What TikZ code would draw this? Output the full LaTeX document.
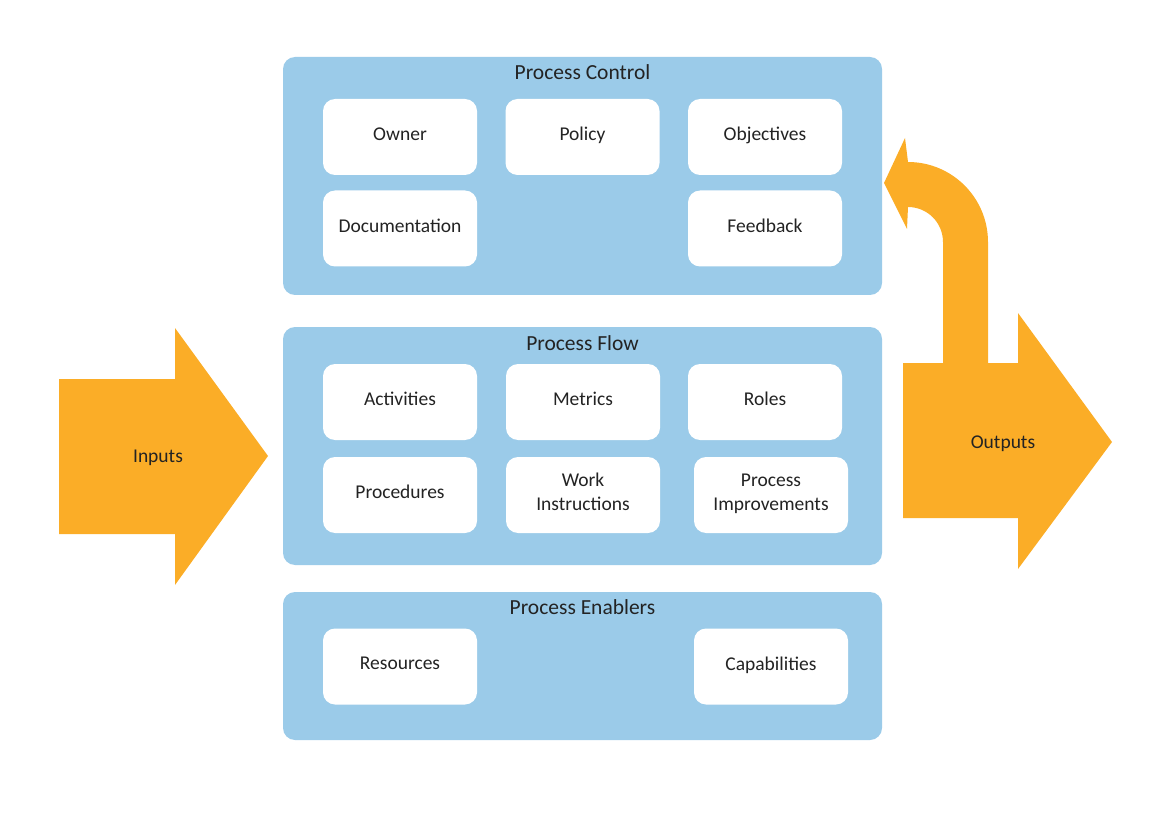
\documentclass[tikz,border=0pt]{standalone}
\usepackage{fontspec}
\setmainfont{Carlito}
\definecolor{boxblue}{RGB}{155,203,233}
\definecolor{arroworange}{RGB}{251,173,39}
\definecolor{txt}{RGB}{35,35,35}
\begin{document}
\begin{tikzpicture}[x=1pt,y=-1pt,
  panel/.style={fill=boxblue, rounded corners=12pt, draw=none, inner sep=0pt, minimum width=599pt},
  item/.style={fill=white, rounded corners=12pt, minimum width=154pt, minimum height=76pt, align=center, font=\fontsize{19.5}{24}\selectfont, text=txt, inner sep=0pt, text depth=6pt},
  ptitle/.style={font=\fontsize{21.5}{26}\selectfont, text=txt, inner sep=0pt},
  alabel/.style={font=\fontsize{19.5}{24}\selectfont, text=txt, inner sep=0pt},
  bigarrow/.style={fill=arroworange, draw=none}]
\useasboundingbox (0,0) rectangle (1160,821);

% panels
\node[panel, minimum height=238pt] (pc) at (582.5,176) {};
\node[panel, minimum height=238pt] (pf) at (582.5,446) {};
\node[panel, minimum height=148pt] (pe) at (582.5,666) {};

\node[ptitle] (pct) at (582.5,72) {Process Control};
\node[ptitle] (pft) at (582.5,343) {Process Flow};
\node[ptitle] (pet) at (582.5,607) {Process Enablers};

% process control items
\node[item] (owner) at (400,137) {Owner};
\node[item] (policy) at (582.5,137) {Policy};
\node[item] (objectives) at (765,137) {Objectives};
\node[item] (documentation) at (400,228.5) {Documentation};
\node[item] (feedback) at (765,228.5) {Feedback};

% process flow items
\node[item] (activities) at (400,402) {Activities};
\node[item] (metrics) at (583,402) {Metrics};
\node[item] (roles) at (765,402) {Roles};
\node[item] (procedures) at (400,495) {Procedures};
\node[item] (work) at (583,495) {Work\\Instructions};
\node[item] (improve) at (771,495) {Process\\Improvements};

% process enablers items
\node[item] (resources) at (400,666.5) {Resources};
\node[item] (capabilities) at (771,666.5) {Capabilities};

% inputs arrow
\fill[bigarrow] (59,379) -- (175,379) -- (175,328) -- (268,456) -- (175,585) -- (175,534) -- (59,534) -- cycle;
\node[alabel] (inputs) at (158,458) {Inputs};

% feedback curved arrow
\fill[bigarrow] (943,363) -- (943,242) arc[start angle=0, end angle=-90, radius=35]
  -- (907,229) -- (884,183) -- (905,138) -- (908,162)
  arc[start angle=-90, end angle=0, radius=80] -- (988,363) -- cycle;

% outputs arrow
\fill[bigarrow] (903,363) -- (1018,363) -- (1018,313) -- (1112,442) -- (1018,569) -- (1018,518) -- (903,518) -- cycle;
\node[alabel] (outputs) at (1003,444) {Outputs};
\end{tikzpicture}
\end{document}
